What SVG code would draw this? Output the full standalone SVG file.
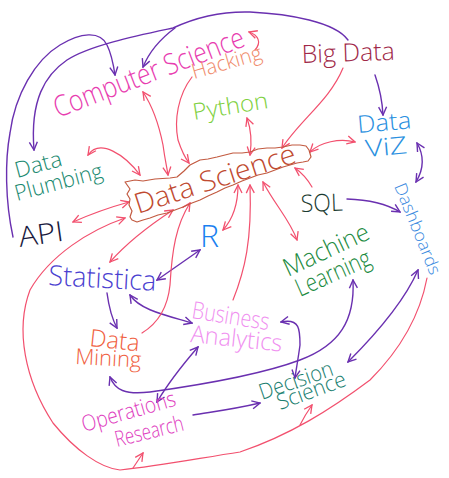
<svg xmlns="http://www.w3.org/2000/svg" width="449" height="478" viewBox="0 0 449 478">
<style>
.t{font-family:"Open Sans","Liberation Sans",sans-serif;font-weight:300}
.p{fill:none;stroke:#6a30b0;stroke-width:1.4;stroke-linecap:round}
.r{fill:none;stroke:#f2506e;stroke-width:1.2;stroke-linecap:round}
</style>
<defs>
<marker id="ap" viewBox="0 0 10 10" refX="9" refY="5" markerWidth="10" markerHeight="10" markerUnits="userSpaceOnUse" orient="auto-start-reverse"><path d="M1,1 L9,5 L1,9" fill="none" stroke="#6a30b0" stroke-width="1.4"/></marker>
<marker id="ar" viewBox="0 0 10 10" refX="9" refY="5" markerWidth="10" markerHeight="10" markerUnits="userSpaceOnUse" orient="auto-start-reverse"><path d="M1,1 L9,5 L1,9" fill="none" stroke="#f2506e" stroke-width="1.3"/></marker>
</defs>
<rect width="449" height="478" fill="#ffffff"/>
<g id="connectors">
<path class="p" d="M348,40 C335,22 290,14 250,12 C215,11 190,20 173,28 C140,35 90,45 67,60 C45,75 30,100 34,150" marker-end="url(#ap)"/>
<path class="p" d="M175,28 Q152,45 143,67" marker-end="url(#ap)"/>
<path class="p" d="M13,237 C5,200 5,160 10,133 C15,95 35,60 60,45 C80,33 100,30 107,45 Q112,55 115,75" marker-end="url(#ap)"/>
<path class="p" d="M375,75 Q382,95 383,115" marker-end="url(#ap)"/>
<path class="p" d="M417,143 Q428,162 416,182" marker-start="url(#ap)" marker-end="url(#ap)"/>
<path class="p" d="M347,199 Q380,200 400,212" marker-end="url(#ap)"/>
<path class="p" d="M418,270 C405,300 375,335 348,362" marker-start="url(#ap)" marker-end="url(#ap)"/>
<path class="p" d="M353,280 C355,320 340,345 300,360 C260,375 200,385 150,392 C125,395 115,390 110,377" marker-start="url(#ap)" marker-end="url(#ap)"/>
<path class="p" d="M281,322 C300,318 300,330 300,345 C298,360 296,370 295,378" marker-start="url(#ap)" marker-end="url(#ap)"/>
<path class="p" d="M193,415 C210,412 230,410 260,403" marker-end="url(#ap)"/>
<path class="p" d="M198,347 C185,362 170,380 157,402" marker-start="url(#ap)" marker-end="url(#ap)"/>
<path class="p" d="M130,295 C140,310 165,315 192,323" marker-start="url(#ap)" marker-end="url(#ap)"/>
<path class="p" d="M107,293 Q110,315 117,328" marker-end="url(#ap)"/>
<path class="p" d="M157,280 L200,250" marker-start="url(#ap)" marker-end="url(#ap)"/>

<path class="r" d="M143,92 C155,110 160,130 163,145 C165,160 167,168 168,175" marker-start="url(#ar)" marker-end="url(#ar)"/>
<path class="r" d="M192,77 C178,95 174,120 178,140 Q183,155 189,163" marker-end="url(#ar)"/>
<path class="r" d="M255,50 C262,42 258,35 249,32" marker-end="url(#ar)"/>
<path class="r" d="M247,118 Q253,135 250,155" marker-start="url(#ar)" marker-end="url(#ar)"/>
<path class="r" d="M343,68 C330,100 300,120 282,148" marker-end="url(#ar)"/>
<path class="r" d="M310,152 C320,142 340,138 355,142" marker-start="url(#ar)" marker-end="url(#ar)"/>
<path class="r" d="M312,187 Q305,175 295,168" marker-end="url(#ar)"/>
<path class="r" d="M263,182 C275,205 290,220 297,240" marker-start="url(#ar)" marker-end="url(#ar)"/>
<path class="r" d="M238,185 C238,205 232,220 223,230" marker-start="url(#ar)" marker-end="url(#ar)"/>
<path class="r" d="M233,300 C245,270 252,240 250,185" marker-end="url(#ar)"/>
<path class="r" d="M173,210 C150,225 125,245 110,262" marker-start="url(#ar)" marker-end="url(#ar)"/>
<path class="r" d="M129,202 Q100,210 73,222" marker-start="url(#ar)" marker-end="url(#ar)"/>
<path class="r" d="M88,155 C100,138 125,155 140,175" marker-start="url(#ar)" marker-end="url(#ar)"/>
<path class="r" d="M142,333 C160,322 168,305 170,285 C172,250 176,225 190,203" marker-end="url(#ar)"/>
<path class="r" d="M125,218 C90,230 50,255 30,290 C15,330 25,380 53,423 C75,450 100,468 120,470 C160,466 200,458 240,452 C290,435 330,410 370,380 C400,350 420,315 427,278" marker-start="url(#ar)"/>
<path class="r" d="M133,468 Q137,462 143,453" marker-end="url(#ar)"/>
<path class="r" d="M300,425 Q305,415 312,405" marker-end="url(#ar)"/>
</g>

<g id="data-science">
<path d="M125,182 L135,180 L143,181 L155,179 L170,178 L177,177 L184,171 L190,165 L200,160 L208,159 L217,157 L225,155 L233,153 L242,153 L250,152 L258,149 L267,148 L275,148 L283,147 L292,145 L300,145 L306,146 L309,150 L311,157 L308,161 L303,162 L297,163 L290,165 L283,167 L275,170 L267,173 L258,175 L250,178 L242,181 L233,185 L225,188 L217,192 L208,196 L200,200 L192,203 L183,207 L175,210 L167,213 L158,215 L150,218 L143,220 L137,222 L132,220 L130,217 L132,211 L129,205 L130,199 L127,194 L130,189 Z" fill="none" stroke="#c25a40" stroke-width="1.2" stroke-linejoin="round"/>
<text class="t" x="138" y="214" transform="rotate(-18 138 214)" font-size="28" fill="#c04a30" textLength="168" lengthAdjust="spacingAndGlyphs">Data Science</text>
</g>
<g id="computer-science"><text class="t" x="58" y="118" transform="rotate(-21 58 118)" font-size="29" fill="#e83cb0" textLength="202" lengthAdjust="spacingAndGlyphs">Computer Science</text></g>
<g id="hacking"><text class="t" x="194" y="79" transform="rotate(-16 194 79)" font-size="21" fill="#f08a6a" textLength="72" lengthAdjust="spacingAndGlyphs">Hacking</text></g>
<g id="python"><text class="t" x="194" y="120" transform="rotate(-9 194 120)" font-size="23" fill="#7ed040" textLength="76" lengthAdjust="spacingAndGlyphs">Python</text></g>
<g id="big-data"><text class="t" x="302" y="63" transform="rotate(-2 302 63)" font-size="25" fill="#a02848" textLength="93" lengthAdjust="spacingAndGlyphs">Big Data</text></g>
<g id="data-viz">
<text class="t" x="358" y="133" transform="rotate(-5 358 133)" font-size="24" fill="#2a90e0" textLength="54" lengthAdjust="spacingAndGlyphs">Data</text>
<text class="t" x="366" y="157" transform="rotate(-5 366 157)" font-size="24" fill="#2a90e0" textLength="42" lengthAdjust="spacingAndGlyphs">ViZ</text>
</g>
<g id="dashboards"><text class="t" x="394" y="186" transform="rotate(68 394 186)" font-size="17" fill="#3a8ae0" textLength="97" lengthAdjust="spacingAndGlyphs">Dashboards</text></g>
<g id="sql"><text class="t" x="301" y="212" transform="rotate(-2 301 212)" font-size="24" fill="#1a3a30" textLength="42" lengthAdjust="spacingAndGlyphs">SQL</text></g>
<g id="data-plumbing">
<text class="t" x="17" y="178" transform="rotate(-15 17 178)" font-size="22" fill="#1a8a70" textLength="48" lengthAdjust="spacingAndGlyphs">Data</text>
<text class="t" x="17" y="201" transform="rotate(-15 17 201)" font-size="22" fill="#1a8a70" textLength="90" lengthAdjust="spacingAndGlyphs">Plumbing</text>
</g>
<g id="api"><text class="t" x="20" y="247" transform="rotate(-8 20 247)" font-size="28" fill="#1a1a40" textLength="45" lengthAdjust="spacingAndGlyphs">API</text></g>
<g id="r"><text class="t" x="200" y="247" font-size="32" fill="#1a80f0" textLength="19" lengthAdjust="spacingAndGlyphs">R</text></g>
<g id="statistica"><text class="t" x="48" y="285" transform="rotate(3 48 285)" font-size="28" fill="#4a40d0" textLength="108" lengthAdjust="spacingAndGlyphs">Statistica</text></g>
<g id="machine-learning">
<text class="t" x="288" y="277" transform="rotate(-25 288 277)" font-size="25" fill="#1a8a40" textLength="92" lengthAdjust="spacingAndGlyphs">Machine</text>
<text class="t" x="300" y="297" transform="rotate(-24 300 297)" font-size="25" fill="#1a8a40" textLength="80" lengthAdjust="spacingAndGlyphs">Learning</text>
</g>
<g id="business-analytics">
<text class="t" x="191" y="318" transform="rotate(9 191 318)" font-size="24" fill="#f090f0" textLength="78" lengthAdjust="spacingAndGlyphs">Business</text>
<text class="t" x="190" y="342" transform="rotate(6 190 342)" font-size="24" fill="#f090f0" textLength="92" lengthAdjust="spacingAndGlyphs">Analytics</text>
</g>
<g id="data-mining">
<text class="t" x="89" y="346" transform="rotate(6 89 346)" font-size="24" fill="#f06040" textLength="50" lengthAdjust="spacingAndGlyphs">Data</text>
<text class="t" x="75" y="364" transform="rotate(3 75 364)" font-size="22" fill="#f06040" textLength="66" lengthAdjust="spacingAndGlyphs">Mining</text>
</g>
<g id="operations-research">
<text class="t" x="84" y="432" transform="rotate(-16 84 432)" font-size="22" fill="#e040c0" textLength="97" lengthAdjust="spacingAndGlyphs">Operations</text>
<text class="t" x="117" y="447" transform="rotate(-14 117 447)" font-size="22" fill="#e040c0" textLength="70" lengthAdjust="spacingAndGlyphs">Research</text>
</g>
<g id="decision-science">
<text class="t" x="262" y="400" transform="rotate(-19 262 400)" font-size="22" fill="#1a8070" textLength="77" lengthAdjust="spacingAndGlyphs">Decision</text>
<text class="t" x="280" y="410" transform="rotate(-20 280 410)" font-size="22" fill="#1a8070" textLength="72" lengthAdjust="spacingAndGlyphs">Science</text>
</g>
</svg>
